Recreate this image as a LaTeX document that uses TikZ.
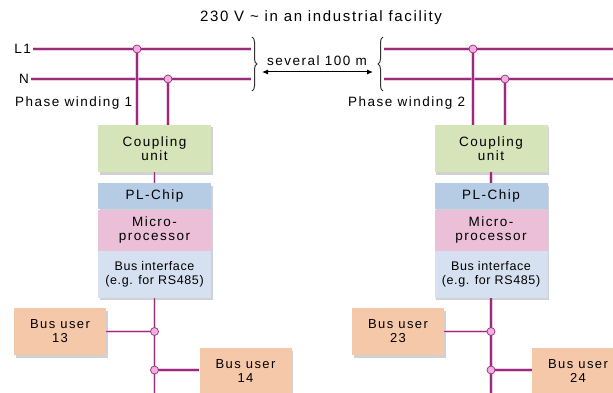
\documentclass[tikz,border=0pt]{standalone}
\usepackage{fontspec}
\setmainfont{Liberation Sans}[LetterSpace=11]
\newfontfamily\smallsp{Liberation Sans}[LetterSpace=5]
\usetikzlibrary{shadows,decorations.pathreplacing,arrows.meta}
\definecolor{wire}{RGB}{150,45,120}
\definecolor{wireglow}{RGB}{238,165,218}
\definecolor{dotpink}{RGB}{240,175,225}
\definecolor{coup}{RGB}{214,228,186}
\definecolor{plc}{RGB}{182,203,228}
\definecolor{mic}{RGB}{236,191,216}
\definecolor{bif}{RGB}{213,225,240}
\definecolor{busu}{RGB}{246,200,170}
\begin{document}
\begin{tikzpicture}[x=1pt,y=-1pt,
  txt/.style={font=\fontsize{13.5}{14}\selectfont, inner sep=0pt},
  wire/.style={draw=wire, line width=1.9pt, preaction={draw=wireglow, line width=3.8pt, opacity=0.6}},
  dot/.style={circle, fill=dotpink, draw=wire, line width=0.7pt, inner sep=0pt, minimum size=8pt},
  blk/.style={txt, align=center, minimum width=113pt, inner sep=0pt},
  shbox/.style={blk, drop shadow={shadow xshift=1.5pt, shadow yshift=-2.5pt, fill=black!40, opacity=0.45}},
  usr/.style={shbox, fill=busu, minimum width=92pt, minimum height=47pt, font=\fontsize{13}{14}\selectfont},
  brc/.style={draw=black!80, line width=1pt, decorate, decoration={brace, amplitude=5pt}},
]
\clip (0,0) rectangle (613,393);
\fill[white] (0,0) rectangle (613,393);

% texts
\node[txt, font=\fontsize{15}{16}\selectfont] (title) at (321,18) {230 V \textasciitilde\ in an industrial facility};
\node[txt, anchor=east] (lL1) at (31,49) {L1};
\node[txt, anchor=east] (lN) at (29,79) {N};
\node[txt, anchor=west] (pw1) at (15,103) {Phase winding 1};
\node[txt, anchor=west] (pw2) at (348,103) {Phase winding 2};
\node[txt] (dist) at (317,61) {several 100 m};

% boxes
\node[shbox, fill=coup, minimum height=47pt] (cu1) at (154.5,148.5) {Coupling\\unit};
\node[shbox, fill=coup, minimum height=47pt] (cu2) at (491,148.5) {Coupling\\unit};

\fill[black!40, opacity=0.45] (99.5,185.5) rectangle (212.5,299.5);
\node[blk, fill=plc, minimum height=26pt, anchor=north] (pl1) at (154.5,183) {PL-Chip};
\node[blk, fill=mic, minimum height=41pt, anchor=north] (mp1) at (pl1.south) {Micro-\\processor};
\node[blk, fill=bif, minimum height=47pt, anchor=north, font=\smallsp\fontsize{12.5}{14}\selectfont] (bi1) at (mp1.south) {Bus interface\\(e.g. for RS485)};

\fill[black!40, opacity=0.45] (436,185.5) rectangle (549,299.5);
\node[blk, fill=plc, minimum height=26pt, anchor=north] (pl2) at (491,183) {PL-Chip};
\node[blk, fill=mic, minimum height=41pt, anchor=north] (mp2) at (pl2.south) {Micro-\\processor};
\node[blk, fill=bif, minimum height=47pt, anchor=north, font=\smallsp\fontsize{12.5}{14}\selectfont] (bi2) at (mp2.south) {Bus interface\\(e.g. for RS485)};

\node[usr] (u13) at (60,331.5) {Bus user\\13};
\node[usr] (u14) at (245.5,371.5) {Bus user\\14};
\node[usr] (u23) at (398,331.5) {Bus user\\23};
\node[usr] (u24) at (578,371.5) {Bus user\\24};

% coordinates
\coordinate (L1a) at (33,49);  \coordinate (L1b) at (251,49);
\coordinate (Na) at (31,79);   \coordinate (Nb) at (251,79);
\coordinate (L1c) at (384,49); \coordinate (L1d) at (613,49);
\coordinate (Nc) at (384,79);  \coordinate (Nd) at (613,79);
\coordinate (j1) at (137,49);  \coordinate (j2) at (168,79);
\coordinate (j3) at (473,49);  \coordinate (j4) at (505,79);
\coordinate (b1) at (154.5,393); \coordinate (b2) at (491,393);
\coordinate (k13) at (154.5,331.5); \coordinate (k14) at (154.5,370);
\coordinate (k23) at (491,331.5); \coordinate (k24) at (491,370);

% wires
\draw[wire] (L1a) -- (L1b);
\draw[wire] (Na) -- (Nb);
\draw[wire] (L1c) -- (L1d);
\draw[wire] (Nc) -- (Nd);
\draw[wire] (j1) -- (j1 |- cu1.north);
\draw[wire] (j2) -- (j2 |- cu1.north);
\draw[wire] (j3) -- (j3 |- cu2.north);
\draw[wire] (j4) -- (j4 |- cu2.north);
\draw[wire] (cu1.south) -- (pl1.north);
\draw[wire] (cu2.south) -- (pl2.north);
\draw[wire] (bi1.south) -- (b1);
\draw[wire] (bi2.south) -- (b2);
\draw[wire] (u13.east) -- (k13);
\draw[wire] (k14) -- (u14.west |- k14);
\draw[wire] (u23.east) -- (k23);
\draw[wire] (k24) -- (u24.west |- k24);

% junction dots
\foreach \c in {j1,j2,j3,j4,k13,k14,k23,k24} \node[dot] (d\c) at (\c) {};

% braces and distance arrow
\draw[brc] (252,37) -- (252,91);
\draw[brc] (383,91) -- (383,37);
\coordinate (aL) at (262,72);
\coordinate (aR) at (373,72);
\draw[line width=1pt, {Latex[length=6pt,width=5pt]}-{Latex[length=6pt,width=5pt]}] (aL) -- (aR);
\end{tikzpicture}
\end{document}
